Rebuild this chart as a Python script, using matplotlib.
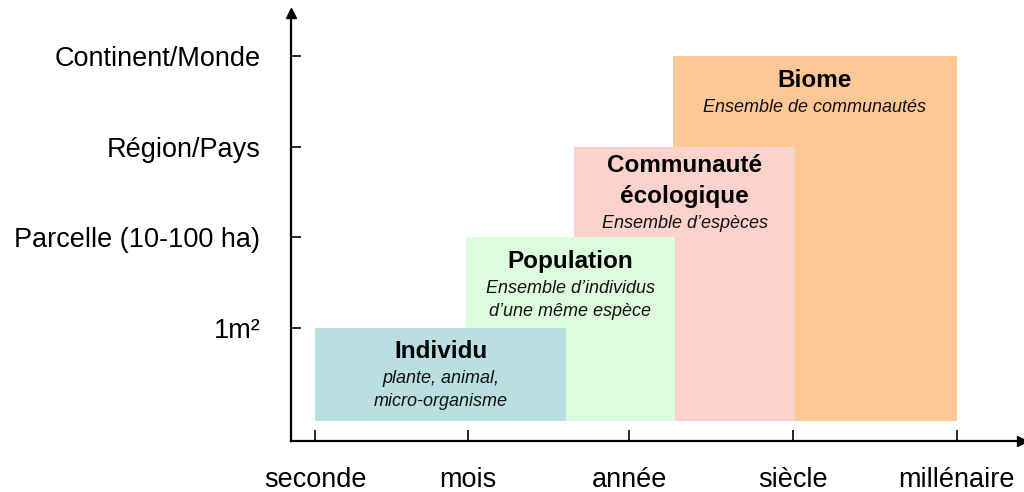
import matplotlib

matplotlib.use("Agg")
import matplotlib.pyplot as plt
from matplotlib.patches import Rectangle

plt.rcParams["font.family"] = ["Liberation Sans", "DejaVu Sans"]

# x: position on a (log-like) time axis, y: spatial scale level
time_labels = ["seconde", "mois", "année", "siècle", "millénaire"]
time_pos = [0.0, 0.94, 1.94, 2.95, 3.96]
space_labels = ["1m²", "Parcelle (10-100 ha)", "Région/Pays", "Continent/Monde"]
space_pos = [1, 2, 3, 4]

# boxes, drawn bottom to top
box_titles = [["Biome"], ["Communauté", "écologique"], ["Population"], ["Individu"]]
box_subtitles = [
    ["Ensemble de communautés"],
    ["Ensemble d\u2019espèces"],
    ["Ensemble d\u2019individus", "d\u2019une même espèce"],
    ["plante, animal,", "micro-organisme"],
]
box_x0 = [2.21, 1.60, 0.93, 0.0]
box_x1 = [3.96, 2.96, 2.22, 1.55]
box_top = [4, 3, 2, 1]
box_bottom = -0.03
box_colors = ["#fec896", "#fbd2cc", "#ddfcdd", "#b9dfe1"]

fig = plt.figure(figsize=(10.24, 4.92), dpi=100, facecolor="white")
ax = fig.add_axes([291 / 1024, 51 / 492, 731 / 1024, 428 / 492])
ax.set_xlim(-0.15, 4.364)
ax.set_ylim(-0.25, 4.48)

for i in range(len(box_titles)):
    ax.add_patch(Rectangle((box_x0[i], box_bottom), box_x1[i] - box_x0[i],
                           box_top[i] - box_bottom, facecolor=box_colors[i],
                           edgecolor="none", zorder=2 + i))
    cx = (box_x0[i] + box_x1[i]) / 2
    off = 24 - 5 * (len(box_titles[i]) - 1)
    for line in box_titles[i]:
        ax.annotate(line, xy=(cx, box_top[i]), xytext=(0, -off),
                    textcoords="offset pixels", ha="center", va="center",
                    fontsize=17.5, fontweight="bold", zorder=10)
        off += 31
    off -= 4
    for line in box_subtitles[i]:
        ax.annotate(line, xy=(cx, box_top[i]), xytext=(0, -off),
                    textcoords="offset pixels", ha="center", va="center",
                    fontsize=13, style="italic", color="#111111", zorder=10)
        off += 23

for side in ["top", "right"]:
    ax.spines[side].set_visible(False)
for side in ["left", "bottom"]:
    ax.spines[side].set_linewidth(1.6)
    ax.spines[side].set_color("black")

# arrow heads
ax.plot(0, 1, marker="^", color="black", markersize=7, transform=ax.transAxes, clip_on=False)
ax.plot(1, 0, marker=">", color="black", markersize=7, transform=ax.transAxes, clip_on=False)

ax.set_xticks(time_pos)
ax.set_xticklabels(time_labels, fontsize=19.5)
ax.set_yticks(space_pos)
ax.set_yticklabels(space_labels, fontsize=19.5)
ax.tick_params(axis="x", direction="in", length=8, width=1.2, pad=19)
ax.tick_params(axis="y", direction="in", length=7, width=1.2, pad=22)

fig.savefig("out.png", dpi=100, facecolor="white")
